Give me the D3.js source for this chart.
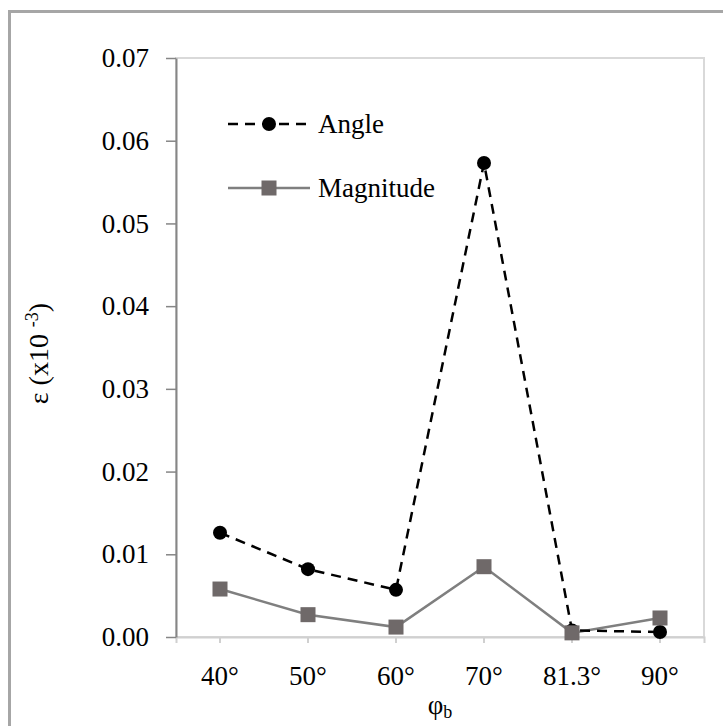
<!DOCTYPE html>
<html>
<head>
<meta charset="utf-8">
<script src="https://cdn.jsdelivr.net/npm/d3@7"></script>
<style>
  body { margin: 0; background: #fff; }
  text { font-family: "Liberation Serif", "Times New Roman", serif; fill: #000; }
</style>
</head>
<body>
<div id="chart"></div>
<script>
// data
const categories = ["40°", "50°", "60°", "70°", "81.3°", "90°"];
const angleValues = [0.0126, 0.0082, 0.0057, 0.0573, 0.0008, 0.0006];
const magnitudeValues = [0.0058, 0.0027, 0.0012, 0.0085, 0.0005, 0.0023];
const yTicks = [0, 0.01, 0.02, 0.03, 0.04, 0.05, 0.06, 0.07];

const W = 723, H = 726;
const margin = {top: 58, right: 19, bottom: 89, left: 176};
const width = W - margin.left - margin.right,
      height = H - margin.top - margin.bottom;

const svg = d3.select("#chart").append("svg")
    .attr("width", W)
    .attr("height", H);

// outer frame (only top and left visible)
svg.append("line").attr("x1", 8).attr("x2", W).attr("y1", 11.5).attr("y2", 11.5)
  .attr("stroke", "#a6a6a6").attr("stroke-width", 3);
svg.append("line").attr("x1", 9.5).attr("x2", 9.5).attr("y1", 10).attr("y2", H)
  .attr("stroke", "#a6a6a6").attr("stroke-width", 3);

const g = svg.append("g")
    .attr("transform", `translate(${margin.left},${margin.top})`);

const x = d3.scaleBand().domain(categories).range([0, width]);
const y = d3.scaleLinear().domain([0, 0.07]).range([height, 0]);
const cx = d => x(d) + x.bandwidth() / 2;

// plot area border
g.append("rect")
  .attr("width", width).attr("height", height)
  .attr("fill", "none").attr("stroke", "#d9d9d9").attr("stroke-width", 2);

// x axis
const xAxis = g.append("g")
  .attr("transform", `translate(0,${height})`)
  .call(d3.axisBottom(x).tickSize(6).tickPadding(23));
xAxis.select(".domain").attr("stroke", "#d0d0d0").attr("stroke-width", 2);
xAxis.selectAll(".tick line").attr("stroke", "#d0d0d0").attr("stroke-width", 2);
xAxis.selectAll(".tick text").attr("font-size", 27)
  .style("font-family", "Liberation Serif, serif");

// y axis
const yAxis = g.append("g")
  .call(d3.axisLeft(y).tickValues(yTicks).tickFormat(d3.format(".2f"))
    .tickSize(10).tickSizeOuter(0).tickPadding(17));
yAxis.select(".domain").attr("stroke", "#868686").attr("stroke-width", 2);
yAxis.selectAll(".tick line").attr("stroke", "#868686").attr("stroke-width", 1.5);
yAxis.selectAll(".tick text").attr("font-size", 27)
  .style("font-family", "Liberation Serif, serif");

// magnitude series
const magColor = "#7f7f7f", magFill = "#6f6969";
g.append("path")
  .datum(magnitudeValues)
  .attr("fill", "none").attr("stroke", magColor).attr("stroke-width", 2.5)
  .attr("d", d3.line().x((d, i) => cx(categories[i])).y(d => y(d)));

// angle series
g.append("path")
  .datum(angleValues)
  .attr("fill", "none").attr("stroke", "#000").attr("stroke-width", 2.5)
  .attr("stroke-dasharray", "10,7")
  .attr("d", d3.line().x((d, i) => cx(categories[i])).y(d => y(d)));

g.selectAll(".angle-pt").data(angleValues).enter().append("circle")
  .attr("cx", (d, i) => cx(categories[i])).attr("cy", d => y(d))
  .attr("r", 7).attr("fill", "#000");

g.selectAll(".mag-pt").data(magnitudeValues).enter().append("rect")
  .attr("x", (d, i) => cx(categories[i]) - 7.5).attr("y", d => y(d) - 7.5)
  .attr("width", 15).attr("height", 15).attr("fill", magFill);

// legend
const legend = svg.append("g");
const leg1 = legend.append("g").attr("transform", "translate(0,124)");
leg1.append("line").attr("x1", 228).attr("x2", 310).attr("stroke", "#000")
  .attr("stroke-width", 2.5).attr("stroke-dasharray", "10,7");
leg1.append("circle").attr("cx", 269).attr("r", 7).attr("fill", "#000");
leg1.append("text").attr("x", 318).attr("dy", "0.35em").attr("font-size", 27).text("Angle");

const leg2 = legend.append("g").attr("transform", "translate(0,188)");
leg2.append("line").attr("x1", 228).attr("x2", 310).attr("stroke", magColor).attr("stroke-width", 2.5);
leg2.append("rect").attr("x", 269 - 7.5).attr("y", -7.5).attr("width", 15).attr("height", 15).attr("fill", magFill);
leg2.append("text").attr("x", 318).attr("dy", "0.35em").attr("font-size", 27).text("Magnitude");

// axis titles
const xt = svg.append("text").attr("x", 440).attr("y", 714)
  .attr("text-anchor", "middle").attr("font-size", 27);
xt.append("tspan").text("φ");
xt.append("tspan").attr("font-size", 18).attr("dy", 4).text("b");

const yt = svg.append("text")
  .attr("transform", `translate(48,${margin.top + height / 2 + 6}) rotate(-90)`)
  .attr("text-anchor", "middle").attr("font-size", 28);
yt.append("tspan").text("ε (x10 ");
yt.append("tspan").attr("font-size", 18).attr("dy", -10).text("-3");
yt.append("tspan").attr("dy", 10).text(")");
</script>
</body>
</html>
